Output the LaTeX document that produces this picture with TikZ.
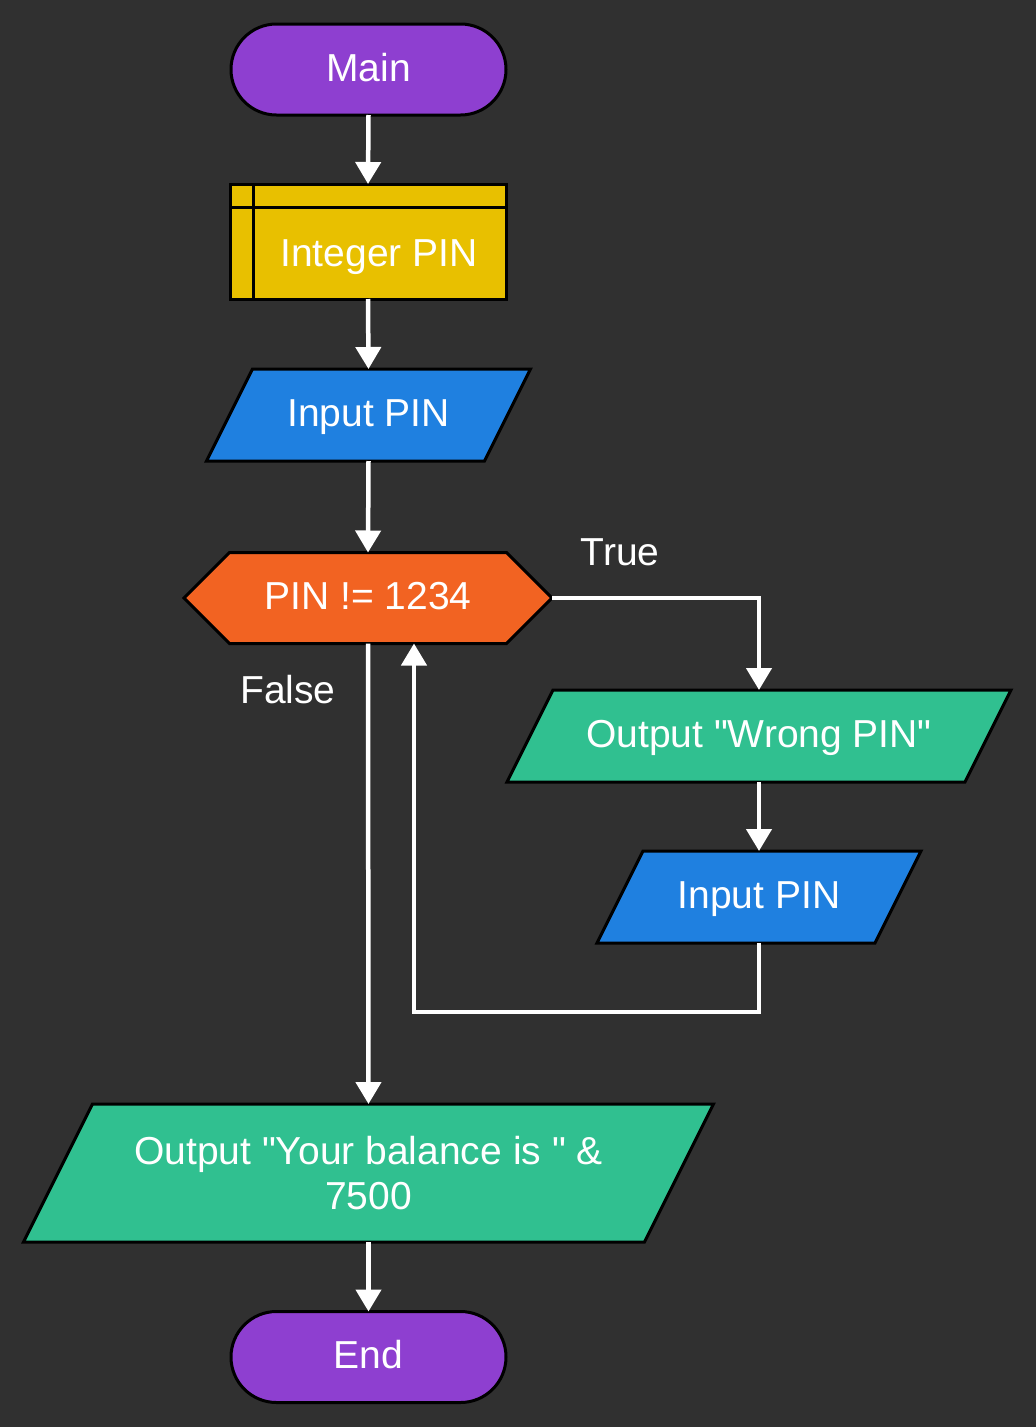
\documentclass[tikz,border=0pt]{standalone}
\usepackage{fontspec}
\setmainfont{Liberation Sans}
\usetikzlibrary{shapes.misc,shapes.symbols,arrows.meta}
\definecolor{bg}{HTML}{303030}
\definecolor{cpurple}{HTML}{8E3FD0}
\definecolor{cyellow}{HTML}{E8C000}
\definecolor{cblue}{HTML}{1F80E0}
\definecolor{corange}{HTML}{F26322}
\definecolor{cgreen}{HTML}{30C090}
\newcommand{\qq}{\XeTeXglyph\XeTeXcharglyph"22\relax}
\tikzset{
  base/.style={draw=black, line width=3pt, text=white, inner sep=0pt, outer sep=0pt,
    font=\fontsize{39}{45}\selectfont, align=center},
  one/.style={text height=32pt, text depth=9pt},
  term/.style={base, one, fill=cpurple, rounded rectangle, minimum width=275pt, minimum height=91pt},
  decl/.style={base, fill=cyellow, rectangle, minimum width=276pt, minimum height=115pt},
  parashape/.style={draw=black, line width=3pt, line join=miter},
  paratext/.style={text=white, inner sep=0pt, outer sep=0pt, font=\fontsize{39}{45}\selectfont, align=center},
  dec/.style={base, one, fill=corange, signal, signal to=west and east, signal pointer angle=90,
    minimum width=368pt, minimum height=91pt},
  lbl/.style={text=white, font=\fontsize{39}{45}\selectfont, inner sep=0pt},
  conn/.style={draw=white, line width=4.5pt, -{Triangle[length=22pt,width=25pt]}}
}
\begin{document}
\begin{tikzpicture}[x=1pt,y=-1pt]
\useasboundingbox (0,0) rectangle (1036,1427);
\fill[bg] (0,0) rectangle (1036,1427);

% shapes of the parallelograms
\filldraw[parashape, fill=cblue] (252.5,369) -- (530.5,369) -- (484.5,461) -- (206.5,461) -- cycle;
\filldraw[parashape, fill=cgreen] (553,690) -- (1011,690) -- (965,782) -- (507,782) -- cycle;
\filldraw[parashape, fill=cblue] (643,851) -- (921,851) -- (875,943) -- (597,943) -- cycle;
\filldraw[parashape, fill=cgreen] (92.5,1104) -- (713.5,1104) -- (644.5,1242) -- (23.5,1242) -- cycle;

\node[term] (main) at (368.5,69.5) {Main};
\node[decl] (int) at (368,241.5) {};
\draw[line width=3pt] ([xshift=23pt]int.north west) -- ([xshift=23pt]int.south west);
\draw[line width=3pt] ([yshift=-23pt]int.north west) -- ([yshift=-23pt]int.north east);
\node[lbl, one] (intlbl) at (379,255) {Integer PIN};
\node[paratext, one, minimum width=278pt, minimum height=92pt] (in1) at (368.5,415) {Input PIN};
\node[dec] (cond) at (368,598) {PIN != 1234};
\node[paratext, one, minimum width=458pt, minimum height=92pt] (out1) at (759,736) {Output \qq Wrong PIN\qq};
\node[paratext, one, minimum width=278pt, minimum height=92pt] (in2) at (759,897) {Input PIN};
\node[paratext, minimum width=621pt, minimum height=138pt] (out2) at (368.5,1173) {Output \qq Your balance is \qq\ \&\\7500};
\node[term] (end) at (368.5,1357) {End};

\node[lbl] (truelbl) at (620,552) {True};
\node[lbl] (falselbl) at (288,690) {False};

\coordinate (loopend) at ([xshift=46pt]cond.south);
\draw[conn] (main.south) -- (int.north);
\draw[conn] (int.south) -- (in1.north);
\draw[conn] (in1.south) -- (cond.north);
\draw[conn] (cond.east) -| (out1.north);
\draw[conn] (out1.south) -- (in2.north);
\draw[conn] (in2.south) |- ++(0,69) -| (loopend);
\draw[conn] (cond.south) -- (out2.north);
\draw[conn] (out2.south) -- (end.north);
\end{tikzpicture}
\end{document}
